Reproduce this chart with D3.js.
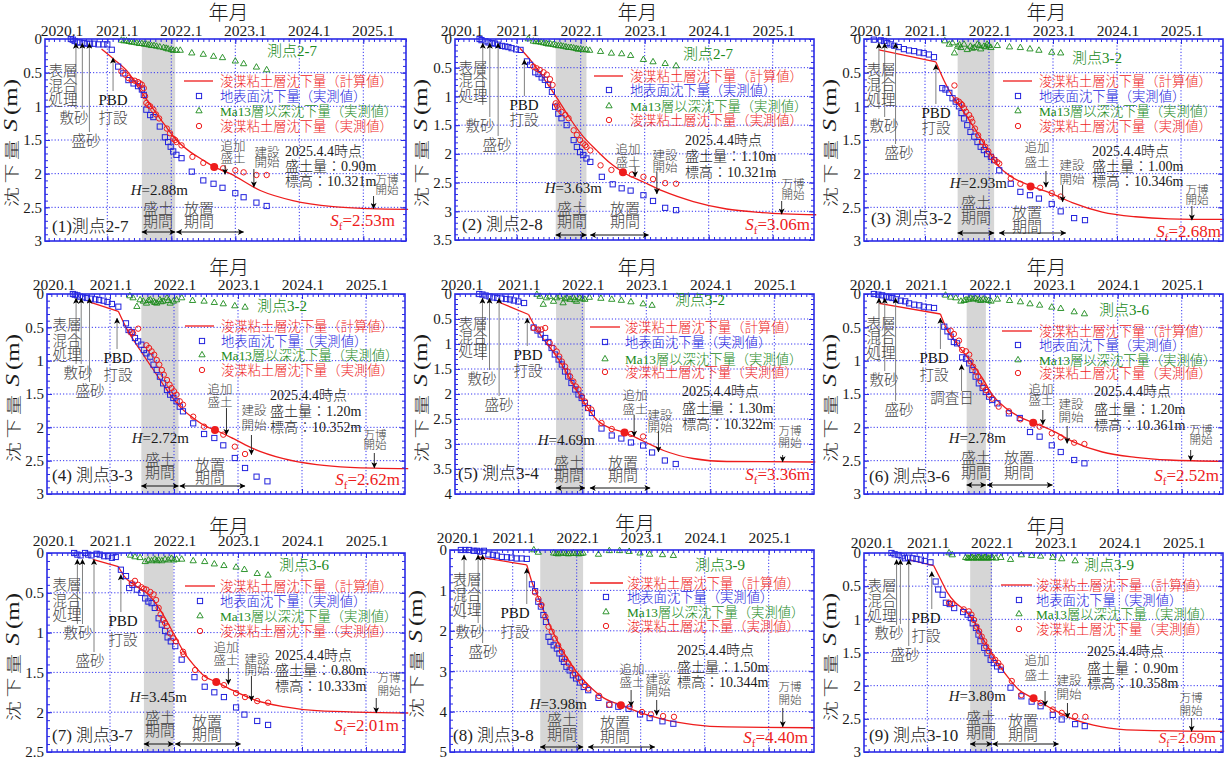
<!DOCTYPE html>
<html><head><meta charset="utf-8">
<script src="https://cdn.jsdelivr.net/npm/d3@7"></script>
<style>
body{margin:0;background:#fff;}
svg{display:block;font-family:"Liberation Serif","Noto Sans CJK JP",serif;font-weight:300;}
</style></head><body>
<svg id="c" width="1229" height="758"></svg>
<script>
// ---------------- DATA ----------------
const yearTicks = [2020, 2021, 2022, 2023, 2024, 2025];
const yearLabels = ["2020.1", "2021.1", "2022.1", "2023.1", "2024.1", "2025.1"];
const yMax = [3, 3.5, 3, 3, 4, 3, 2.5, 5, 3];
const yStep = [0.5, 0.5, 0.5, 0.5, 0.5, 0.5, 0.5, 1, 0.5];
const panelNames = ["(1)測点2-7", "(2) 測点2-8", "(3) 測点3-2", "(4) 測点3-3", "(5) 測点3-4", "(6) 測点3-6", "(7) 測点3-7", "(8) 測点3-8", "(9) 測点3-10"];
const ma13Names = ["測点2-7", "測点2-7", "測点3-2", "測点3-2", "測点3-2", "測点3-6", "測点3-6", "測点3-9", "測点3-9"];
const hValues = ["2.88", "3.63", "2.93", "2.72", "4.69", "2.78", "3.45", "3.98", "3.80"];
const sfValues = ["2.53", "3.06", "2.68", "2.62", "3.36", "2.52", "2.01", "4.40", "2.69"];
const fillAmounts = ["0.90", "1.10", "1.00", "1.20", "1.30", "1.20", "0.80", "1.50", "0.90"];
const elevations = ["10.321", "10.321", "10.346", "10.352", "10.322", "10.361", "10.333", "10.344", "10.358"];
const legendLabels = ["浚渫粘土層沈下量（計算値）", "地表面沈下量（実測値）", "Ma13層以深沈下量（実測値）", "浚渫粘土層沈下量（実測値）"];

// event dates (decimal year)
const evSurface = [2020.51, 2020.47, 2020.28, 2020.47, 2020.44, 2020.27, 2020.49, 2020.24, 2020.52];
const evSandMat = [2020.61, 2020.58, 2020.37, 2020.55, 2020.55, 2020.36, 2020.57, 2020.46, 2020.58];
const evSandFill = [2020.72, 2020.71, 2020.54, 2020.68, 2020.70, 2020.53, 2020.75, 2020.53, 2020.71];
const evPBD = [2021.09, 2021.12, 2021.17, 2021.11, 2021.14, 2021.23, 2021.17, 2021.22, 2021.07];
const fillStart = [2021.54, 2021.61, 2021.51, 2021.49, 2021.59, 2021.64, 2021.53, 2021.43, 2021.67];
const fillEnd = [2022.06, 2022.09, 2022.08, 2022.07, 2022.04, 2021.94, 2021.99, 2022.10, 2022.01];
const restStart = [2022.08, 2022.15, 2022.16, 2022.09, 2022.12, 2021.96, 2022.02, 2022.18, 2022.02];
const restEnd = [2023.13, 2023.06, 2023.20, 2023.11, 2023.06, 2022.98, 2023.04, 2023.22, 2023.05];
const evAddFill = [2022.84, 2022.85, 2022.89, 2022.82, 2022.81, 2022.83, 2022.85, 2022.85, 2022.84];
const evBuild = [2023.29, 2023.19, 2023.15, 2023.21, 2023.19, 2023.21, 2023.21, 2023.25, 2023.19];
const evExpo = [2025.16, 2025.14, 2025.17, 2025.13, 2025.13, 2025.14, 2025.16, 2025.22, 2025.13];
const evSurvey6 = 2021.56;

// filled red point (追加盛土 time)
const addPoints = [[2022.67,1.90],[2022.66,2.32],[2022.65,2.19],[2022.64,2.04],[2022.66,2.77],[2022.68,1.93],[2022.66,1.62],[2022.69,3.84],[2022.66,2.19]];
const calcKink = [0, 0, 1, 1, 1, 1, 1, 1, 1];

// ---- panel 1 ----
const calc1 = [[2020.91,0.15],[2021.1,0.3],[2021.33,0.5],[2021.5,0.74],[2021.69,1.0],[2021.9,1.28],[2022.08,1.5],[2022.3,1.68],[2022.5,1.8],[2022.67,1.9],[2022.92,2.0],[2023.39,2.25],[2023.9,2.4],[2024.53,2.49],[2025.1,2.52],[2025.7,2.53]];
const surf1 = [[2020.43,0],[2020.46,0.01],[2020.49,0.03],[2020.53,0.05],[2020.57,0.05],[2020.63,0.06],[2020.68,0.07],[2020.73,0.07],[2020.79,0.07],[2020.86,0.08],[2020.94,0.08],[2021.0,0.08],[2021.07,0.16],[2021.17,0.41],[2021.25,0.51],[2021.33,0.61],[2021.41,0.66],[2021.48,0.7],[2021.54,0.75],[2021.57,0.83],[2021.61,1.05],[2021.67,1.13],[2021.72,1.16],[2021.82,1.3],[2021.9,1.46],[2021.95,1.53],[2021.99,1.6],[2022.03,1.67],[2022.08,1.72],[2022.16,1.77],[2022.32,1.97],[2022.5,2.1],[2022.66,2.15],[2022.8,2.21],[2023.0,2.29],[2023.13,2.35],[2023.33,2.43],[2023.49,2.48]];
const ma1 = [[2021.22,0.02],[2021.26,0.03],[2021.3,0.03],[2021.34,0.04],[2021.38,0.05],[2021.42,0.05],[2021.46,0.06],[2021.5,0.07],[2021.54,0.07],[2021.58,0.08],[2021.61,0.08],[2021.65,0.09],[2021.69,0.1],[2021.73,0.1],[2021.77,0.11],[2021.82,0.12],[2021.88,0.13],[2021.92,0.14],[2021.95,0.15],[2022.0,0.16],[2022.03,0.17],[2022.08,0.17],[2022.14,0.17],[2022.32,0.21],[2022.5,0.23],[2022.66,0.26],[2022.8,0.28],[2023.0,0.33],[2023.13,0.37],[2023.33,0.42],[2023.49,0.46]];
const clay1 = [[2021.22,0.48],[2021.28,0.53],[2021.33,0.58],[2021.38,0.61],[2021.43,0.62],[2021.48,0.64],[2021.51,0.66],[2021.54,0.68],[2021.57,0.73],[2021.59,0.85],[2021.61,0.95],[2021.64,0.98],[2021.67,1.0],[2021.72,1.05],[2021.76,1.12],[2021.81,1.18],[2021.93,1.33],[2021.98,1.4],[2022.03,1.48],[2022.06,1.5],[2022.08,1.53],[2022.16,1.58],[2022.33,1.75],[2022.5,1.84],[2022.81,1.92],[2023.0,1.95],[2023.13,1.98],[2023.33,2.02],[2023.49,2.02]];

// ---- panel 2 ----
const calc2 = [[2021.05,0.16],[2021.21,0.36],[2021.42,0.68],[2021.63,1.03],[2021.83,1.38],[2022.04,1.7],[2022.25,1.94],[2022.46,2.16],[2022.66,2.32],[2022.98,2.49],[2023.29,2.65],[2023.76,2.83],[2024.28,2.96],[2024.8,3.02],[2025.68,3.06]];
const surf2 = [[2020.42,0],[2020.45,0.02],[2020.51,0.04],[2020.56,0.06],[2020.61,0.07],[2020.66,0.08],[2020.71,0.1],[2020.77,0.12],[2020.82,0.13],[2020.87,0.14],[2020.92,0.16],[2020.99,0.18],[2021.06,0.19],[2021.16,0.39],[2021.21,0.45],[2021.29,0.58],[2021.34,0.61],[2021.39,0.67],[2021.44,0.71],[2021.49,0.8],[2021.55,0.92],[2021.6,1.18],[2021.65,1.3],[2021.7,1.38],[2021.78,1.5],[2021.89,1.76],[2021.94,1.88],[2021.99,1.97],[2022.04,2.02],[2022.09,2.08],[2022.15,2.14],[2022.33,2.4],[2022.5,2.53],[2022.64,2.6],[2022.78,2.64],[2022.98,2.72],[2023.13,2.82],[2023.32,2.94],[2023.49,2.98]];
const ma2 = [[2021.18,0],[2021.26,0.04],[2021.3,0.05],[2021.34,0.05],[2021.38,0.06],[2021.42,0.07],[2021.46,0.08],[2021.49,0.09],[2021.53,0.09],[2021.57,0.1],[2021.61,0.11],[2021.65,0.12],[2021.69,0.12],[2021.73,0.13],[2021.77,0.14],[2021.81,0.15],[2021.85,0.15],[2021.89,0.16],[2021.93,0.17],[2021.96,0.18],[2022.0,0.18],[2022.04,0.19],[2022.09,0.19],[2022.14,0.2],[2022.31,0.22],[2022.48,0.25],[2022.64,0.26],[2022.78,0.29],[2022.98,0.36],[2023.13,0.4],[2023.32,0.43],[2023.49,0.47]];
const clay2 = [[2021.26,0.48],[2021.31,0.51],[2021.36,0.54],[2021.42,0.58],[2021.47,0.62],[2021.52,0.7],[2021.56,0.8],[2021.61,1.12],[2021.63,1.16],[2021.65,1.21],[2021.7,1.27],[2021.76,1.32],[2021.81,1.38],[2021.89,1.59],[2021.94,1.67],[2021.99,1.76],[2022.04,1.82],[2022.07,1.85],[2022.09,1.88],[2022.15,1.94],[2022.31,2.2],[2022.48,2.28],[2022.8,2.36],[2022.98,2.4],[2023.13,2.44],[2023.32,2.51],[2023.49,2.52]];

// ---- panel 3 ----
const calc3 = [[2020.28,0.16],[2021.17,0.34],[2021.32,0.66],[2021.43,0.85],[2021.58,1.05],[2021.79,1.35],[2022.0,1.67],[2022.16,1.9],[2022.34,2.04],[2022.65,2.18],[2022.99,2.3],[2023.3,2.43],[2023.77,2.57],[2024.29,2.64],[2024.81,2.67],[2025.67,2.68]];
const surf3 = [[2020.2,0.01],[2020.31,0.02],[2020.36,0.03],[2020.41,0.06],[2020.46,0.08],[2020.52,0.1],[2020.59,0.12],[2020.67,0.15],[2020.75,0.17],[2020.83,0.18],[2020.91,0.2],[2020.98,0.21],[2021.06,0.23],[2021.14,0.27],[2021.27,0.73],[2021.32,0.75],[2021.38,0.8],[2021.43,0.88],[2021.48,0.93],[2021.53,1.0],[2021.57,1.1],[2021.61,1.18],[2021.66,1.28],[2021.71,1.38],[2021.77,1.45],[2021.82,1.53],[2021.87,1.6],[2021.92,1.65],[2021.97,1.71],[2022.03,1.75],[2022.08,1.8],[2022.16,1.95],[2022.34,2.15],[2022.49,2.27],[2022.64,2.32],[2022.78,2.37],[2022.98,2.45],[2023.12,2.56],[2023.33,2.66],[2023.5,2.69]];
const ma3 = [[2021.31,0.03],[2021.38,0.08],[2021.43,0.06],[2021.46,0.21],[2021.51,0.11],[2021.54,0.09],[2021.56,0.13],[2021.61,0.08],[2021.66,0.16],[2021.71,0.11],[2021.74,0.14],[2021.77,0.13],[2021.82,0.08],[2021.85,0.1],[2021.87,0.15],[2021.92,0.11],[2021.95,0.12],[2021.97,0.08],[2022.0,0.1],[2022.03,0.13],[2022.13,0.1],[2022.32,0.12],[2022.49,0.13],[2022.64,0.15],[2022.78,0.17],[2022.98,0.2],[2023.12,0.21]];
const clay3 = [[2021.46,0.69],[2021.49,0.91],[2021.53,0.93],[2021.56,0.96],[2021.58,0.98],[2021.61,1.03],[2021.64,1.08],[2021.69,1.13],[2021.72,1.18],[2021.74,1.23],[2021.78,1.33],[2021.83,1.43],[2021.89,1.53],[2021.94,1.6],[2021.99,1.67],[2022.04,1.75],[2022.09,1.8],[2022.13,1.83],[2022.16,1.85],[2022.34,2.07],[2022.49,2.15],[2022.8,2.21],[2022.98,2.29],[2023.12,2.34]];

// ---- panel 4 ----
const calc4 = [[2020.65,0.11],[2021.13,0.26],[2021.26,0.52],[2021.47,0.84],[2021.68,1.14],[2021.89,1.44],[2022.09,1.69],[2022.3,1.86],[2022.51,1.99],[2022.64,2.04],[2022.93,2.17],[2023.24,2.32],[2023.71,2.47],[2024.23,2.56],[2024.75,2.6],[2025.66,2.62]];
const surf4 = [[2020.42,0],[2020.45,0.01],[2020.49,0.02],[2020.53,0.04],[2020.58,0.05],[2020.64,0.06],[2020.7,0.07],[2020.77,0.08],[2020.83,0.09],[2020.9,0.1],[2020.96,0.12],[2021.03,0.15],[2021.13,0.19],[2021.25,0.44],[2021.29,0.54],[2021.34,0.57],[2021.39,0.66],[2021.44,0.71],[2021.49,0.76],[2021.53,0.84],[2021.57,0.89],[2021.63,0.94],[2021.68,1.06],[2021.73,1.14],[2021.78,1.24],[2021.83,1.34],[2021.89,1.44],[2021.94,1.51],[2021.99,1.56],[2022.04,1.61],[2022.09,1.69],[2022.14,1.76],[2022.3,1.94],[2022.47,2.1],[2022.63,2.16],[2022.77,2.27],[2022.95,2.46],[2023.11,2.61],[2023.29,2.74],[2023.46,2.81]];
const ma4 = [[2021.31,0.03],[2021.36,0.06],[2021.42,0.19],[2021.47,0.09],[2021.52,0.11],[2021.57,0.14],[2021.6,0.1],[2021.63,0.09],[2021.68,0.11],[2021.7,0.13],[2021.73,0.14],[2021.78,0.09],[2021.8,0.12],[2021.83,0.11],[2021.89,0.06],[2021.91,0.1],[2021.94,0.14],[2021.99,0.11],[2022.04,0.09],[2022.12,0.06],[2022.29,0.1],[2022.47,0.11],[2022.63,0.13],[2022.77,0.15],[2022.95,0.18],[2023.11,0.2]];
const clay4 = [[2021.32,0.57],[2021.36,0.59],[2021.44,0.52],[2021.57,0.77],[2021.61,0.81],[2021.65,0.86],[2021.69,0.91],[2021.73,0.99],[2021.77,1.06],[2021.81,1.14],[2021.84,1.21],[2021.89,1.29],[2021.93,1.36],[2021.96,1.41],[2022.0,1.46],[2022.04,1.51],[2022.09,1.61],[2022.14,1.66],[2022.3,1.84],[2022.47,1.99],[2022.77,2.11],[2022.95,2.29],[2023.11,2.4]];

// ---- panel 5 ----
const calc5 = [[2020.67,0.15],[2021.16,0.41],[2021.26,0.65],[2021.44,0.98],[2021.65,1.35],[2021.86,1.81],[2022.07,2.25],[2022.22,2.51],[2022.43,2.68],[2022.66,2.77],[2022.95,2.94],[2023.27,3.13],[2023.73,3.29],[2024.26,3.35],[2025.64,3.36]];
const surf5 = [[2020.39,0],[2020.44,0.01],[2020.49,0.03],[2020.55,0.05],[2020.61,0.07],[2020.67,0.08],[2020.74,0.09],[2020.81,0.1],[2020.87,0.11],[2020.93,0.13],[2021.0,0.15],[2021.09,0.18],[2021.24,0.67],[2021.3,0.73],[2021.35,0.81],[2021.42,0.88],[2021.47,0.96],[2021.52,1.08],[2021.57,1.21],[2021.63,1.31],[2021.68,1.41],[2021.73,1.55],[2021.78,1.65],[2021.83,1.78],[2021.89,1.91],[2021.94,2.01],[2021.99,2.08],[2022.04,2.18],[2022.09,2.28],[2022.15,2.38],[2022.3,2.69],[2022.46,2.83],[2022.61,2.89],[2022.76,2.97],[2022.95,3.03],[2023.09,3.17],[2023.29,3.33],[2023.46,3.4]];
const ma5 = [[2021.29,0.01],[2021.34,0.05],[2021.39,0.21],[2021.44,0.08],[2021.49,0.05],[2021.55,0.15],[2021.6,0.08],[2021.65,0.05],[2021.7,0.18],[2021.73,0.1],[2021.76,0.08],[2021.81,0.11],[2021.86,0.07],[2021.88,0.12],[2021.91,0.15],[2021.96,0.08],[2022.0,0.1],[2022.04,0.11],[2022.11,0.07],[2022.29,0.09],[2022.46,0.11],[2022.61,0.13],[2022.76,0.16],[2022.95,0.2],[2023.09,0.23]];
const clay5 = [[2021.24,0.68],[2021.31,0.71],[2021.36,0.71],[2021.42,0.68],[2021.49,0.98],[2021.55,1.08],[2021.6,1.15],[2021.64,1.25],[2021.68,1.35],[2021.73,1.45],[2021.77,1.55],[2021.81,1.65],[2021.86,1.75],[2021.9,1.85],[2021.94,1.91],[2021.99,2.05],[2022.04,2.15],[2022.09,2.28],[2022.14,2.31],[2022.3,2.58],[2022.46,2.7],[2022.76,2.8],[2022.95,2.85]];

// ---- panel 6 ----
const calc6 = [[2020.27,0.14],[2021.23,0.3],[2021.31,0.49],[2021.52,0.79],[2021.7,1.01],[2021.89,1.27],[2022.04,1.51],[2022.25,1.71],[2022.46,1.84],[2022.68,1.93],[2022.98,2.05],[2023.29,2.21],[2023.76,2.37],[2024.28,2.45],[2024.8,2.49],[2025.66,2.51]];
const surf6 = [[2020.19,0],[2020.26,0.01],[2020.32,0.02],[2020.38,0.04],[2020.43,0.05],[2020.48,0.06],[2020.54,0.08],[2020.61,0.1],[2020.68,0.11],[2020.74,0.14],[2020.82,0.16],[2020.9,0.17],[2020.97,0.19],[2021.05,0.2],[2021.13,0.21],[2021.29,0.49],[2021.34,0.56],[2021.39,0.64],[2021.44,0.72],[2021.49,0.74],[2021.57,0.95],[2021.63,0.97],[2021.68,1.04],[2021.73,1.14],[2021.78,1.24],[2021.83,1.34],[2021.89,1.41],[2021.94,1.47],[2021.99,1.54],[2022.04,1.59],[2022.12,1.64],[2022.3,1.79],[2022.47,1.86],[2022.63,2.07],[2022.78,2.14],[2022.97,2.27],[2023.11,2.37],[2023.32,2.49],[2023.48,2.54]];
const ma6 = [[2021.31,0.02],[2021.39,0.05],[2021.47,0.06],[2021.55,0.11],[2021.6,0.1],[2021.63,0.09],[2021.67,0.08],[2021.7,0.06],[2021.74,0.08],[2021.78,0.07],[2021.82,0.09],[2021.86,0.1],[2021.9,0.08],[2021.94,0.09],[2021.98,0.1],[2022.02,0.11],[2022.12,0.08],[2022.31,0.1],[2022.48,0.12],[2022.63,0.15],[2022.78,0.17],[2022.97,0.2],[2023.11,0.22],[2023.32,0.27],[2023.48,0.3]];
const clay6 = [[2021.39,0.55],[2021.44,0.6],[2021.52,0.7],[2021.57,0.84],[2021.63,0.86],[2021.68,0.91],[2021.7,1.01],[2021.74,1.09],[2021.78,1.16],[2021.82,1.24],[2021.86,1.31],[2021.9,1.39],[2021.94,1.44],[2021.99,1.51],[2022.04,1.57],[2022.14,1.69],[2022.3,1.76],[2022.48,1.88],[2022.78,1.99],[2022.97,2.09],[2023.11,2.15],[2023.32,2.23],[2023.48,2.25]];

// ---- panel 7 ----
const calc7 = [[2020.73,0.08],[2021.13,0.17],[2021.22,0.29],[2021.36,0.39],[2021.57,0.5],[2021.73,0.65],[2021.89,0.86],[2022.02,1.05],[2022.15,1.24],[2022.3,1.4],[2022.48,1.55],[2022.66,1.62],[2022.93,1.73],[2023.24,1.84],[2023.71,1.93],[2024.23,1.98],[2025.66,2.01]];
const surf7 = [[2020.44,0],[2020.49,0.02],[2020.54,0.03],[2020.61,0],[2020.66,0.02],[2020.71,0.03],[2020.79,0.01],[2020.84,0.02],[2020.91,0.04],[2020.97,0.04],[2021.03,0.06],[2021.09,0.05],[2021.17,0.21],[2021.25,0.29],[2021.3,0.44],[2021.35,0.4],[2021.42,0.46],[2021.49,0.5],[2021.55,0.57],[2021.6,0.61],[2021.65,0.63],[2021.7,0.69],[2021.76,0.82],[2021.81,0.9],[2021.86,0.98],[2021.9,1.06],[2021.95,1.11],[2022.02,1.17],[2022.12,1.34],[2022.32,1.56],[2022.48,1.68],[2022.63,1.75],[2022.78,1.81],[2022.97,1.94],[2023.1,2.03],[2023.3,2.11],[2023.47,2.16]];
const ma7 = [[2021.32,0.03],[2021.39,0.05],[2021.47,0.06],[2021.55,0.11],[2021.6,0.09],[2021.65,0.1],[2021.7,0.08],[2021.73,0.1],[2021.76,0.09],[2021.81,0.1],[2021.86,0.08],[2021.91,0.09],[2021.96,0.07],[2022.0,0.09],[2022.04,0.08],[2022.12,0.08],[2022.3,0.1],[2022.48,0.11],[2022.63,0.14],[2022.78,0.16],[2022.97,0.18],[2023.1,0.21],[2023.3,0.26],[2023.47,0.28]];
const clay7 = [[2021.34,0.38],[2021.39,0.35],[2021.44,0.4],[2021.49,0.43],[2021.53,0.45],[2021.57,0.46],[2021.63,0.49],[2021.68,0.52],[2021.72,0.59],[2021.76,0.69],[2021.79,0.77],[2021.83,0.84],[2021.86,0.88],[2021.89,0.92],[2021.94,1.01],[2021.99,1.07],[2022.03,1.11],[2022.14,1.24],[2022.15,1.27],[2022.33,1.47],[2022.48,1.57],[2022.78,1.66],[2022.97,1.76],[2023.11,1.81],[2023.3,1.86],[2023.47,1.88]];

// ---- panel 8 ----
const calc8 = [[2020.46,0.17],[2021.22,0.37],[2021.3,0.79],[2021.38,1.1],[2021.48,1.49],[2021.64,2.07],[2021.79,2.52],[2022.0,3.02],[2022.21,3.39],[2022.42,3.66],[2022.69,3.84],[2023.04,4.05],[2023.35,4.19],[2023.82,4.32],[2024.34,4.38],[2025.72,4.4]];
const surf8 = [[2020.19,0],[2020.26,0],[2020.32,0],[2020.39,0.02],[2020.44,0.02],[2020.49,0.04],[2020.55,0.02],[2020.62,0.11],[2020.69,0.12],[2020.75,0.14],[2020.83,0.17],[2020.91,0.18],[2020.98,0.19],[2021.06,0.21],[2021.14,0.21],[2021.22,0.22],[2021.3,0.85],[2021.35,1.02],[2021.4,1.28],[2021.44,1.4],[2021.48,1.61],[2021.52,1.78],[2021.56,2.15],[2021.59,2.27],[2021.64,2.36],[2021.69,2.44],[2021.73,2.56],[2021.77,2.69],[2021.8,2.77],[2021.84,2.89],[2021.89,2.98],[2021.94,3.1],[2021.99,3.18],[2022.05,3.28],[2022.11,3.39],[2022.18,3.47],[2022.34,3.66],[2022.51,3.83],[2022.65,3.88],[2022.81,3.93],[2022.99,4.07],[2023.14,4.16],[2023.34,4.24],[2023.51,4.3]];
const ma8 = [[2021.33,0],[2021.4,0.06],[2021.64,0.08],[2021.68,0.09],[2021.71,0.1],[2021.75,0.08],[2021.79,0.08],[2021.83,0.09],[2021.87,0.1],[2021.91,0.09],[2021.95,0.08],[2021.99,0.09],[2022.03,0.1],[2022.07,0.09],[2022.1,0.08],[2022.34,0.11],[2022.51,0.02],[2022.67,0.02],[2022.82,0.04],[2022.99,0.08],[2023.14,0.11],[2023.34,0.12],[2023.51,0.14]];
const clay8 = [[2021.35,1.05],[2021.4,1.21],[2021.45,1.36],[2021.51,1.65],[2021.56,1.9],[2021.61,2.02],[2021.66,2.19],[2021.71,2.36],[2021.77,2.52],[2021.82,2.69],[2021.87,2.81],[2021.92,2.93],[2021.97,3.06],[2022.03,3.17],[2022.08,3.26],[2022.13,3.35],[2022.18,3.43],[2022.35,3.61],[2022.51,3.83],[2022.83,3.88],[2023.02,4.01],[2023.16,4.07],[2023.35,4.11],[2023.52,4.13]];

// ---- panel 9 ----
const calc9 = [[2020.71,0.1],[2021.1,0.19],[2021.21,0.4],[2021.31,0.59],[2021.44,0.75],[2021.6,0.87],[2021.76,1.08],[2021.91,1.36],[2022.07,1.61],[2022.25,1.86],[2022.43,2.06],[2022.66,2.19],[2022.95,2.35],[2023.27,2.5],[2023.73,2.62],[2024.26,2.67],[2025.64,2.69]];
const surf9 = [[2020.44,0],[2020.49,0.02],[2020.55,0.03],[2020.6,0.05],[2020.65,0.08],[2020.7,0.07],[2020.77,0.08],[2020.83,0.09],[2020.9,0.1],[2020.96,0.12],[2021.05,0.14],[2021.13,0.43],[2021.17,0.55],[2021.24,0.63],[2021.29,0.75],[2021.35,0.77],[2021.42,0.83],[2021.56,0.89],[2021.63,0.93],[2021.68,0.98],[2021.71,1.06],[2021.76,1.13],[2021.8,1.23],[2021.83,1.33],[2021.89,1.43],[2021.94,1.51],[2021.99,1.61],[2022.04,1.66],[2022.09,1.71],[2022.15,1.76],[2022.3,2.03],[2022.47,2.16],[2022.63,2.24],[2022.77,2.31],[2022.96,2.44],[2023.1,2.51],[2023.31,2.58],[2023.46,2.61]];
const ma9 = [[2021.34,0],[2021.39,0.03],[2021.6,0.07],[2021.63,0.08],[2021.65,0.08],[2021.68,0.07],[2021.7,0.07],[2021.73,0.08],[2021.76,0.08],[2021.79,0.07],[2021.81,0.07],[2021.84,0.08],[2021.86,0.08],[2021.89,0.07],[2021.91,0.07],[2021.94,0.08],[2021.96,0.08],[2022.0,0.07],[2022.02,0.07],[2022.07,0.08],[2022.15,0.07],[2022.3,0.1],[2022.47,0.03],[2022.63,0.04],[2022.77,0.05],[2022.96,0.07],[2023.1,0.09],[2023.31,0.12]];
const clay9 = [[2021.34,0.75],[2021.39,0.77],[2021.57,0.85],[2021.65,0.88],[2021.69,0.93],[2021.73,1.01],[2021.77,1.11],[2021.81,1.18],[2021.85,1.26],[2021.89,1.33],[2021.92,1.41],[2021.96,1.48],[2022.01,1.56],[2022.06,1.61],[2022.11,1.66],[2022.15,1.71],[2022.32,1.93],[2022.47,2.14],[2022.77,2.26],[2022.96,2.36],[2023.1,2.41],[2023.31,2.46],[2023.47,2.47]];

const series = [
  {calc: calc1, surf: surf1, ma: ma1, clay: clay1},
  {calc: calc2, surf: surf2, ma: ma2, clay: clay2},
  {calc: calc3, surf: surf3, ma: ma3, clay: clay3},
  {calc: calc4, surf: surf4, ma: ma4, clay: clay4},
  {calc: calc5, surf: surf5, ma: ma5, clay: clay5},
  {calc: calc6, surf: surf6, ma: ma6, clay: clay6},
  {calc: calc7, surf: surf7, ma: ma7, clay: clay7},
  {calc: calc8, surf: surf8, ma: ma8, clay: clay8},
  {calc: calc9, surf: surf9, ma: ma9, clay: clay9}
];

// ---------------- LAYOUT ----------------
const boxes = [
  {L:45, R:406, T:39, B:241}, {L:455, R:814, T:39, B:240}, {L:864, R:1223, T:39, B:241},
  {L:47, R:405, T:294, B:494}, {L:455, R:814, T:294, B:494}, {L:864, R:1223, T:294, B:494},
  {L:47, R:405, T:553, B:752}, {L:450, R:814, T:550, B:752}, {L:864, R:1223, T:553, B:752}
];
const xOff = [62.3, 61.7, 61, 63, 63.3, 61.7, 63, 62.7, 63.3];
const PX_PER_YEAR = 64;
const lay = [
 {lab:-8, first:17, lo:10, surf:[18,32,47,61], sand:[29,79], fill:[41,102], pbd:[68,61,79], tipE:0.06, tipP:0.28, add:[188,108,120,126], tipA:2.01, bld:[222,114,124,130], tipB:2.2, info:[240,112,127,142], expo:[342,141,151,157], tipX:2.52, h:[143,151], fp:[113,170,183], rp:[154,170,183], ay:193, name:[7,187], sf:[350,181], sfs:17, st:[222,12], leg:[139,168,154,175,42,57,72,87]},
 {lab:-8, first:7, lo:1, surf:[18,29,42,57], sand:[25,87], fill:[42,106], pbd:[69,66,81], tipE:0.07, tipP:0.36, add:[173,111,124,128], tipA:2.4, bld:[210,117,129,133], tipB:2.7, info:[230,101,117,133], expo:[338,145,156,162], tipX:3.05, h:[147,149], fp:[117,170,183], rp:[170,170,183], ay:196, name:[7,185], sf:[355,185], sfs:17, st:[228,15], leg:[139,168,154,175,37,51,67,81]},
 {lab:-8, first:7, lo:1, surf:[17,31,46,61], sand:[20,87], fill:[35,114], pbd:[72,74,89], tipE:0.06, tipP:0.38, add:[173,109,124,132], tipA:2.2, bld:[208,127,141,146], tipB:2.42, info:[228,112,127,142], expo:[333,151,161,167], tipX:2.69, h:[143,144], fp:[112,164,179], rp:[163,174,188], ay:194, name:[7,179], sf:[357,192], sfs:17, st:[208,19], leg:[139,168,154,175,42,57,72,87]},
 {lab:-9, first:7, lo:1, surf:[20,31,47,61], sand:[31,79], fill:[43,97], pbd:[71,64,81], tipE:0.06, tipP:0.36, add:[173,96,109,114], tipA:2.11, bld:[207,117,132,141], tipB:2.41, info:[223,101,117,133], expo:[328,141,151,159], tipX:2.61, h:[142,144], fp:[113,166,179], rp:[163,171,184], ay:192, name:[5,181], sf:[353,185], sfs:17, st:[210,12], leg:[138,167,155,174,32,47,61,76]},
 {lab:-9, first:7, lo:1, surf:[18,30,44,57], sand:[27,85], fill:[44,111], pbd:[73,61,77], tipE:0.08, tipP:0.48, add:[180,102,116,121], tipA:2.85, bld:[205,122,134,137], tipB:3.16, info:[227,97,114,130], expo:[335,137,149,161], tipX:3.36, h:[140,146], fp:[114,169,182], rp:[168,169,182], ay:194, name:[3,179], sf:[355,180], sfs:17, st:[220,6], leg:[135,165,150,170,33,48,65,78]},
 {lab:-9, first:7, lo:1, surf:[17,30,44,59], sand:[20,86], fill:[35,116], pbd:[70,64,81], tipE:0.06, tipP:0.36, add:[177,96,107,116], tipA:1.96, bld:[207,111,124,132], tipB:2.24, info:[230,97,115,131], expo:[337,136,146,156], tipX:2.5, h:[142,144], fp:[112,164,179], rp:[155,164,179], ay:191, name:[5,182], sf:[355,181], sfs:17, st:[235,16], leg:[138,168,154,175,37,51,66,79], survey:[88,104,97,1.06]},
 {lab:-12, first:7, lo:1, surf:[20,32,48,62], sand:[31,80], fill:[43,108], pbd:[76,68,87], tipE:0.08, tipP:0.27, add:[179,95,108,115], tipA:1.65, bld:[210,107,118,123], tipB:1.86, info:[228,102,117,133], expo:[342,125,138,145], tipX:2.01, h:[140,144], fp:[113,165,178], rp:[160,169,182], ay:191, name:[5,182], sf:[352,172], sfs:17, st:[232,12], leg:[138,168,153,173,33,48,63,78]},
 {lab:-12, first:8, lo:1, surf:[17,30,45,60], sand:[20,82], fill:[33,102], pbd:[65,63,82], tipE:0.12, tipP:0.45, add:[182,120,133,140], tipA:3.88, bld:[208,130,142,150], tipB:4.09, info:[227,100,117,132], expo:[340,137,150,158], tipX:4.38, h:[137,154], fp:[112,170,185], rp:[165,173,187], ay:197, name:[3,185], sf:[358,187], sfs:17, st:[245,15], leg:[140,173,156,177,33,47,62,76]},
 {lab:-10, first:8, lo:1, surf:[18,33,48,63], sand:[25,80], fill:[41,102], pbd:[62,65,83], tipE:0.1, tipP:0.28, add:[173,108,123,138], tipA:2.31, bld:[205,128,142,150], tipB:2.49, info:[223,98,115,130], expo:[327,145,158,165], tipX:2.69, h:[142,143], fp:[117,165,180], rp:[159,168,182], ay:191, name:[5,182], sf:[352,185], sfs:15, st:[220,12], leg:[137,168,155,172,32,47,61,76]}
];

const C = {blue:"#2222dd", red:"#ee1c1c", green:"#1b8a1b", frame:"#2b2be6", grid:"#3434f2", band:"#d6d6d6", ink:"#1a1a1a", note:"#444", lead:"#808080"};
const FONT = '"Liberation Serif","Noto Sans CJK JP",serif';

const svg = d3.select('#c');
const defs = svg.append('defs');
defs.append('marker').attr('id','ah').attr('viewBox','0 0 10 10').attr('refX',9.5).attr('refY',5)
  .attr('markerWidth',7).attr('markerHeight',6).attr('markerUnits','userSpaceOnUse').attr('orient','auto-start-reverse')
  .append('path').attr('d','M0,0L10,5L0,10L2.5,5Z').attr('fill','#000');

function txt(g, x, y, s, size, opt = {}) {
  const t = g.append('text').attr('x', x).attr('y', y).attr('dy', '0.35em')
    .attr('font-size', size).attr('fill', opt.fill || C.ink)
    .attr('text-anchor', opt.anchor || 'middle').text(s);
  if (opt.style) t.attr('font-style', opt.style);
  return t;
}

boxes.forEach((b, i) => {
  const P = lay[i];
  const S = series[i];
  const g = svg.append('g');
  const x0 = 2021 - xOff[i] / PX_PER_YEAR, x1 = 2021 + (b.R - b.L - xOff[i]) / PX_PER_YEAR;
  const x = d3.scaleLinear().domain([x0, x1]).range([b.L, b.R]);
  const y = d3.scaleLinear().domain([0, yMax[i]]).range([b.T, b.B]);

  // shaded 盛土期間 band
  g.append('rect').attr('x', x(fillStart[i])).attr('y', b.T)
    .attr('width', x(fillEnd[i]) - x(fillStart[i])).attr('height', b.B - b.T).attr('fill', C.band);

  // grid
  const majors = d3.range(0, yMax[i] + 1e-9, yStep[i]);
  g.append('g').selectAll('line').data(majors.filter(v => v > 0 && v < yMax[i] - 1e-9)).join('line')
    .attr('x1', b.L).attr('x2', b.R).attr('y1', d => y(d)).attr('y2', d => y(d))
    .attr('stroke', C.grid).attr('stroke-width', 1).attr('stroke-dasharray', '1.2,2');
  g.append('g').selectAll('line').data(yearTicks.filter(t => t > x0 && t < x1)).join('line')
    .attr('x1', d => x(d)).attr('x2', d => x(d)).attr('y1', b.T).attr('y2', b.B)
    .attr('stroke', C.grid).attr('stroke-width', 1).attr('stroke-dasharray', '1.2,2');

  // calculated line
  const k = calcKink[i];
  const lineLin = d3.line().x(d => x(d[0])).y(d => y(d[1]));
  const lineMono = d3.line().x(d => x(d[0])).y(d => y(d[1])).curve(d3.curveMonotoneX);
  if (k > 0) g.append('path').attr('d', lineLin(S.calc.slice(0, k + 1))).attr('fill', 'none').attr('stroke', C.red).attr('stroke-width', 1.3);
  g.append('path').attr('d', lineMono(S.calc.slice(k))).attr('fill', 'none').attr('stroke', C.red).attr('stroke-width', 1.3);

  // measured series
  g.append('g').selectAll('rect').data(S.surf).join('rect')
    .attr('x', d => x(d[0]) - 2.6).attr('y', d => y(d[1]) - 2.6).attr('width', 5.2).attr('height', 5.2)
    .attr('fill', 'none').attr('stroke', C.blue).attr('stroke-width', 1);
  const tri = d3.symbol().type(d3.symbolTriangle).size(17);
  g.append('g').selectAll('path').data(S.ma).join('path')
    .attr('transform', d => `translate(${x(d[0])},${y(d[1])})`).attr('d', tri)
    .attr('fill', 'none').attr('stroke', C.green).attr('stroke-width', 0.9);
  g.append('g').selectAll('circle').data(S.clay).join('circle')
    .attr('cx', d => x(d[0])).attr('cy', d => y(d[1])).attr('r', 2.7)
    .attr('fill', 'none').attr('stroke', C.red).attr('stroke-width', 1);
  g.append('circle').datum(addPoints[i]).attr('cx', d => x(d[0])).attr('cy', d => y(d[1])).attr('r', 4).attr('fill', C.red);

  // frame
  g.append('rect').attr('x', b.L).attr('y', b.T).attr('width', b.R - b.L).attr('height', b.B - b.T)
    .attr('fill', 'none').attr('stroke', C.frame).attr('stroke-width', 1.6);

  // axes (ticks inward on all sides)
  const put = (axis, tr) => {
    const a = g.append('g').attr('transform', tr).call(axis)
      .attr('font-family', FONT).attr('font-size', 15);
    a.select('.domain').remove();
    a.selectAll('line').attr('stroke', C.frame);
    a.selectAll('text').attr('fill', C.ink);
    return a;
  };
  const minorsY = d3.range(0, yMax[i] + 1e-9, yStep[i] / 5);
  put(d3.axisLeft(y).tickValues(minorsY).tickSize(-3).tickFormat(''), `translate(${b.L},0)`);
  put(d3.axisLeft(y).tickValues(majors).tickSize(-5).tickPadding(3).tickFormat(d3.format('~g')), `translate(${b.L},0)`);
  put(d3.axisRight(y).tickValues(minorsY).tickSize(-3).tickFormat(''), `translate(${b.R},0)`);
  put(d3.axisRight(y).tickValues(majors).tickSize(-5).tickFormat(''), `translate(${b.R},0)`);
  const months = d3.range(Math.ceil(x0 * 12), Math.floor(x1 * 12) + 1).map(m => m / 12);
  const yrs = yearTicks.filter(t => t > x0 && t < x1);
  put(d3.axisTop(x).tickValues(months).tickSize(-3).tickFormat(''), `translate(0,${b.T})`);
  put(d3.axisTop(x).tickValues(yrs).tickSize(-5).tickFormat(''), `translate(0,${b.T})`);
  put(d3.axisBottom(x).tickValues(months).tickSize(-3).tickFormat(''), `translate(0,${b.B})`);
  put(d3.axisBottom(x).tickValues(yrs).tickSize(-5).tickFormat(''), `translate(0,${b.B})`);

  // x tick labels
  yearTicks.forEach((t, j) => {
    const xx = j === 0 ? Math.max(x(t) + P.lo, b.L + P.first) : x(t) + P.lo;
    txt(g, xx, b.T + P.lab, yearLabels[j], 15.5);
  });
  txt(g, (b.L + b.R) / 2 + 3, b.T - 26, '年月', 20);

  // y axis title
  const yl = g.append('text').attr('transform', `translate(${b.L - 28},${b.T + 168}) rotate(-90) scale(1,0.72)`).attr('fill', C.ink);
  yl.append('tspan').attr('font-size', 20).attr('letter-spacing', 3.5).text('沈下量');
  yl.append('tspan').attr('font-size', 25).attr('font-style', 'italic').attr('dx', 5).text('S');
  yl.append('tspan').attr('font-size', 25).attr('dx', 4).text('(m)');

  // left-side event annotations
  const up = (xd, yFrom, tip) => g.append('line').attr('x1', x(xd)).attr('x2', x(xd))
    .attr('y1', yFrom).attr('y2', y(tip)).attr('stroke', C.lead).attr('stroke-width', 1).attr('marker-end', 'url(#ah)');
  up(evSurface[i], b.T + P.surf[3] + 9, P.tipE);
  up(evSandMat[i], b.T + P.sand[1] - 9, P.tipE);
  up(evSandFill[i], b.T + P.fill[1] - 9, P.tipE);
  up(evPBD[i], b.T + P.pbd[1] - 9, P.tipP);
  const N = {fill: C.note};
  ['表層', '混合', '処理'].forEach((s, j) => txt(g, b.L + P.surf[0], b.T + P.surf[j + 1], s, 14.5, N));
  txt(g, b.L + P.sand[0], b.T + P.sand[1], '敷砂', 14.5, N);
  txt(g, b.L + P.fill[0], b.T + P.fill[1], '盛砂', 14.5, N);
  txt(g, b.L + P.pbd[0], b.T + P.pbd[1], 'PBD', 15, {fill: '#111'});
  txt(g, b.L + P.pbd[0], b.T + P.pbd[2], '打設', 14.5, N);
  if (P.survey) {
    up(evSurvey6, b.T + P.survey[2], P.survey[3]);
    txt(g, b.L + P.survey[0], b.T + P.survey[1], '調査日', 14.5, N);
  }

  // downward arrows
  const down = (xd, yFrom, tip) => g.append('line').attr('x1', x(xd)).attr('x2', x(xd))
    .attr('y1', yFrom).attr('y2', y(tip)).attr('stroke', '#333').attr('stroke-width', 1).attr('marker-end', 'url(#ah)');
  down(evAddFill[i], b.T + P.add[3], P.tipA);
  down(evBuild[i], b.T + P.bld[3], P.tipB);
  down(evExpo[i], b.T + P.expo[3], P.tipX);
  txt(g, b.L + P.add[0], b.T + P.add[1], '追加', 12.5, N);
  txt(g, b.L + P.add[0], b.T + P.add[2], '盛土', 12.5, N);
  txt(g, b.L + P.bld[0], b.T + P.bld[1], '建設', 12.5, N);
  txt(g, b.L + P.bld[0], b.T + P.bld[2], '開始', 12.5, N);
  txt(g, b.L + P.expo[0], b.T + P.expo[1], '万博', 11.5, N);
  txt(g, b.L + P.expo[0], b.T + P.expo[2], '開始', 11.5, N);

  // info block
  txt(g, b.L + P.info[0], b.T + P.info[1], '2025.4.4時点', 14, {anchor: 'start'});
  txt(g, b.L + P.info[0], b.T + P.info[2], '盛土量：' + fillAmounts[i] + 'm', 14, {anchor: 'start'});
  txt(g, b.L + P.info[0], b.T + P.info[3], '標高：' + elevations[i] + 'm', 14, {anchor: 'start'});

  // H label
  const ht = g.append('text').attr('x', b.L + P.h[0]).attr('y', b.T + P.h[1]).attr('dy', '0.35em')
    .attr('font-size', 15).attr('fill', C.ink).attr('text-anchor', 'end');
  ht.append('tspan').attr('font-style', 'italic').text('H');
  ht.append('tspan').text('=' + hValues[i] + 'm');

  // period labels & double arrows
  txt(g, b.L + P.fp[0], b.T + P.fp[1], '盛土', 15, N);
  txt(g, b.L + P.fp[0], b.T + P.fp[2], '期間', 15, N);
  txt(g, b.L + P.rp[0], b.T + P.rp[1], '放置', 15, N);
  txt(g, b.L + P.rp[0], b.T + P.rp[2], '期間', 15, N);
  const dbl = (a, c) => g.append('line').attr('x1', x(a)).attr('x2', x(c)).attr('y1', b.T + P.ay).attr('y2', b.T + P.ay)
    .attr('stroke', '#111').attr('stroke-width', 1).attr('marker-start', 'url(#ah)').attr('marker-end', 'url(#ah)');
  dbl(fillStart[i], fillEnd[i]);
  dbl(restStart[i], restEnd[i]);

  // panel name, Sf, station
  txt(g, b.L + P.name[0], b.T + P.name[1], panelNames[i], 17, {anchor: 'start', fill: '#222'});
  const sf = g.append('text').attr('x', b.L + P.sf[0]).attr('y', b.T + P.sf[1]).attr('dy', '0.35em')
    .attr('font-size', P.sfs).attr('fill', C.red).attr('text-anchor', 'end');
  sf.append('tspan').attr('font-style', 'italic').text('S');
  sf.append('tspan').attr('font-size', P.sfs * 0.65).attr('dy', 4).text('f');
  sf.append('tspan').attr('dy', -4).text('=' + sfValues[i] + 'm');
  txt(g, b.L + P.st[0], b.T + P.st[1], ma13Names[i], 15, {anchor: 'start', fill: C.green});

  // legend
  const lg = P.leg;
  const ry = j => b.T + lg[4 + j];
  g.append('line').attr('x1', b.L + lg[0]).attr('x2', b.L + lg[1]).attr('y1', ry(0)).attr('y2', ry(0))
    .attr('stroke', C.red).attr('stroke-width', 1.3);
  g.append('rect').attr('x', b.L + lg[2] - 2.6).attr('y', ry(1) - 2.6).attr('width', 5.2).attr('height', 5.2)
    .attr('fill', 'none').attr('stroke', C.blue);
  g.append('path').attr('transform', `translate(${b.L + lg[2]},${ry(2)})`).attr('d', tri)
    .attr('fill', 'none').attr('stroke', C.green).attr('stroke-width', 0.9);
  g.append('circle').attr('cx', b.L + lg[2]).attr('cy', ry(3)).attr('r', 2.7)
    .attr('fill', 'none').attr('stroke', C.red);
  const lc = [C.red, C.blue, C.green, C.red];
  legendLabels.forEach((s, j) => txt(g, b.L + lg[3], ry(j), s, 13.3, {anchor: 'start', fill: lc[j]}));
});
</script>
</body></html>
